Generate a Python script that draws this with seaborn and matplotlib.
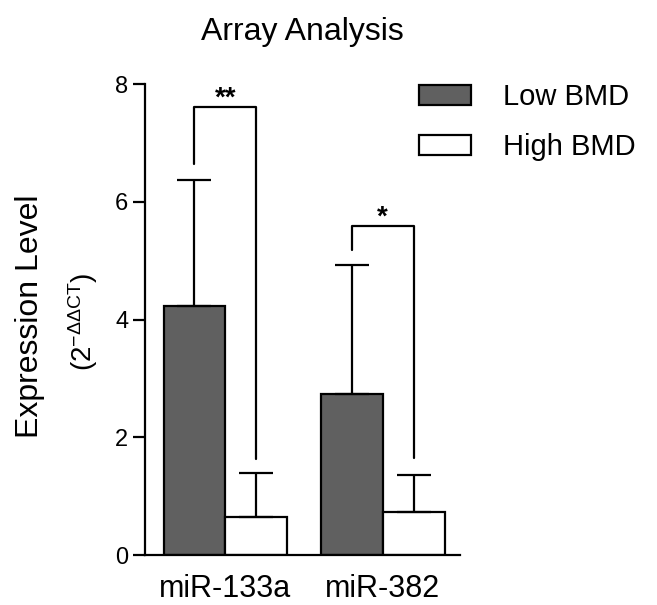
import matplotlib
matplotlib.use("Agg")
import matplotlib.pyplot as plt
import seaborn as sns
import numpy as np
import pandas as pd

# Data
categories = ["miR-133a", "miR-382"]
groups = ["Low BMD", "High BMD"]
low_mean = [4.23, 2.73]
high_mean = [0.645, 0.73]
low_upper = [6.37, 4.92]
high_upper = [1.39, 1.36]

# significance brackets
bracket_top = [7.61, 5.59]
bracket_left_bottom = [6.64, 5.18]
bracket_right_bottom = [1.63, 1.65]
stars = ["**", "*"]

yticks = [0, 2, 4, 6, 8]

df = pd.DataFrame({
    "miRNA": categories * 2,
    "Group": [groups[0]] * 2 + [groups[1]] * 2,
    "Value": low_mean + high_mean,
    "Upper": low_upper + high_upper,
})

sns.set_style("ticks", {"axes.edgecolor": "black", "text.color": "black",
                        "xtick.color": "black", "ytick.color": "black",
                        "axes.labelcolor": "black"})
plt.rcParams["font.family"] = ["Liberation Sans", "DejaVu Sans"]
plt.rcParams["mathtext.fontset"] = "custom"
plt.rcParams["mathtext.rm"] = "Liberation Sans"
plt.rcParams["mathtext.it"] = "Liberation Sans"

fig = plt.figure(figsize=(6.57, 6.05), dpi=100)
ax = fig.add_axes([0.2207, 0.0826, 0.4793, 0.7784])

sns.barplot(data=df, x="miRNA", y="Value", hue="Group", order=categories,
            hue_order=groups, palette=["#606060", "white"], width=0.785,
            edgecolor="black", linewidth=1.6, errorbar=None, ax=ax)

# one-sided error bars from bar centres
centers = {}
for container, g in zip(ax.containers, groups):
    for bar, cat in zip(container, categories):
        centers[(g, cat)] = bar.get_x() + bar.get_width() / 2

for g in groups:
    sub = df[df["Group"] == g]
    xs = [centers[(g, c)] for c in sub["miRNA"]]
    ys = sub["Value"].values
    err = sub["Upper"].values - ys
    ax.errorbar(xs, ys, yerr=[np.zeros(len(ys)), err], fmt="none",
                ecolor="black", elinewidth=1.6, capsize=12, capthick=1.6,
                zorder=1)

# brackets
for i, cat in enumerate(categories):
    xl = centers[(groups[0], cat)]
    xr = centers[(groups[1], cat)]
    ax.plot([xl, xl, xr, xr],
            [bracket_left_bottom[i], bracket_top[i], bracket_top[i], bracket_right_bottom[i]],
            color="black", lw=1.6, clip_on=False)
    ax.text((xl + xr) / 2, bracket_top[i] - 0.08, stars[i], ha="center",
            va="bottom", fontsize=20, fontweight="bold")

ax.set_xlim(-0.51, 1.49)
ax.set_ylim(0, 8)
ax.set_yticks(yticks)
ax.set_xlabel("")
ax.set_ylabel("")
ax.tick_params(axis="y", labelsize=17, length=9, width=1.6, pad=3)
ax.tick_params(axis="x", labelsize=22, length=0, pad=14)
for s in ["left", "bottom"]:
    ax.spines[s].set_linewidth(1.6)
sns.despine(ax=ax)

ax.set_title("Array Analysis", fontsize=23, pad=32)

fig.text(0.046, 0.478, "Expression Level", rotation=90, ha="center",
         va="center", fontsize=23)
fig.text(0.126, 0.468, r"(2$^{-\Delta\Delta CT}$)", rotation=90,
         ha="center", va="center", fontsize=20)

ax.legend(loc="upper left", bbox_to_anchor=(0.637, 0.862),
          bbox_transform=fig.transFigure, frameon=False, fontsize=21,
          handlelength=1.8, handleheight=0.7, handletextpad=1.1,
          labelspacing=0.75, borderpad=0, borderaxespad=0)

fig.savefig("out.png", dpi=100)
